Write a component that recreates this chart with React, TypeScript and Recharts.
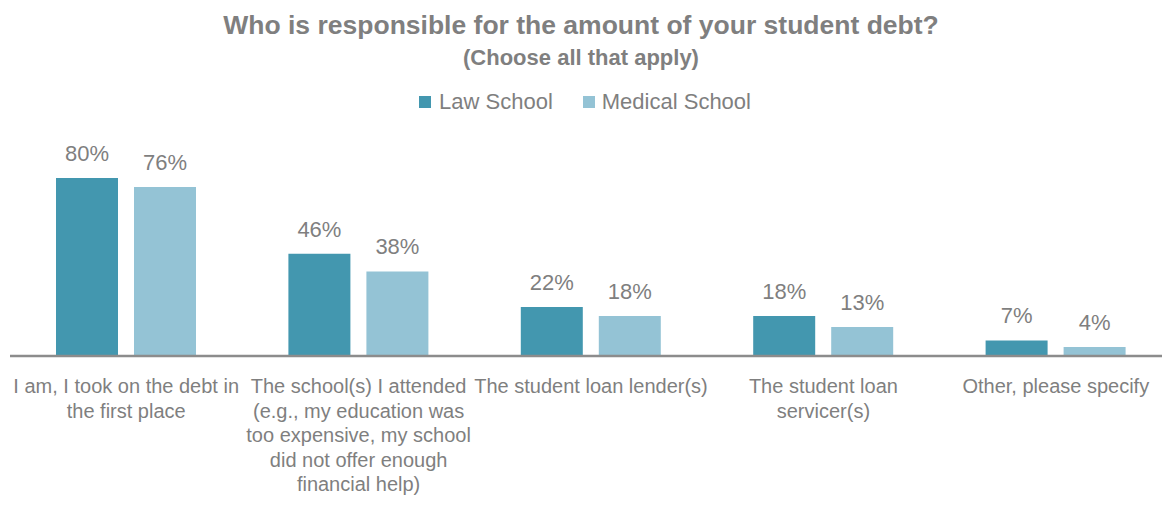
import React from 'react';
import { BarChart, Bar, XAxis, YAxis, LabelList } from 'recharts';

const categories = [
  'I am, I took on the debt in the first place',
  'The school(s) I attended (e.g., my education was too expensive, my school did not offer enough financial help)',
  'The student loan lender(s)',
  'The student loan servicer(s)',
  'Other, please specify',
];

// wrapped the way the original chart wraps them
const tickLines = [
  ['I am, I took on the debt in', 'the first place'],
  ['The school(s) I attended', '(e.g., my education was', 'too expensive, my school', 'did not offer enough', 'financial help)'],
  ['The student loan lender(s)'],
  ['The student loan', 'servicer(s)'],
  ['Other, please specify'],
];

const lawSchool = [80, 46, 22, 18, 7];
const medicalSchool = [76, 38, 18, 13, 4];

const data = categories.map((name, i) => ({
  name,
  law: lawSchool[i],
  medical: medicalSchool[i],
}));

const FONT = '"Liberation Sans Narrow", "Arial Narrow", "Liberation Sans", sans-serif';
const GREY = '#7f7f7f';
const DARK = '#4397af';
const LIGHT = '#94c3d5';

const CategoryTick = (props: any) => {
  const { x, y, index } = props;
  const lines = tickLines[index] || [];
  return (
    <text x={x} y={y} textAnchor="middle" fill={GREY} fontSize={20} fontFamily={FONT}>
      {lines.map((l, i) => (
        <tspan key={i} x={x} dy={i === 0 ? 29 : 24.6}>{l}</tspan>
      ))}
    </text>
  );
};

const pct = (v: any) => `${v}%`;

export default function App() {
  return (
    <div style={{ position: 'absolute', left: 0, top: 0, width: 1162, height: 508, overflow: 'hidden', background: '#fff', fontFamily: FONT }}>
      <div style={{ position: 'absolute', top: 10, left: 0, width: 1162, textAlign: 'center', color: GREY, fontSize: 26.5, fontWeight: 'bold' }}>
        Who is responsible for the amount of your student debt?
      </div>
      <div style={{ position: 'absolute', top: 45, left: 0, width: 1162, textAlign: 'center', color: GREY, fontSize: 22, fontWeight: 'bold' }}>
        (Choose all that apply)
      </div>
      <div style={{ position: 'absolute', top: 89, left: 4, width: 1162, display: 'flex', justifyContent: 'center', color: GREY, fontSize: 22, alignItems: 'center' }}>
        <span style={{ display: 'inline-block', width: 12, height: 12, background: DARK, marginRight: 8 }} />
        <span style={{ marginRight: 30 }}>Law School</span>
        <span style={{ display: 'inline-block', width: 12, height: 12, background: LIGHT, marginRight: 7 }} />
        <span>Medical School</span>
      </div>
      <div style={{ position: 'absolute', left: 0, top: 0 }}>
        <BarChart
          width={1180}
          height={508}
          data={data}
          margin={{ top: 133.5, right: 8, bottom: 2, left: 10 }}
          barGap={16}
          barCategoryGap={46}
        >
          <XAxis
            dataKey="name"
            interval={0}
            height={150}
            tickLine={false}
            axisLine={{ stroke: '#8c8c8c', strokeWidth: 2.5 }}
            tick={<CategoryTick />}
          />
          <YAxis hide domain={[0, 100]} />
          <Bar dataKey="law" name="Law School" fill={DARK} barSize={62} isAnimationActive={false}>
            <LabelList dataKey="law" position="top" offset={17} formatter={pct} fill={GREY} fontSize={22} fontFamily={FONT} />
          </Bar>
          <Bar dataKey="medical" name="Medical School" fill={LIGHT} barSize={62} isAnimationActive={false}>
            <LabelList dataKey="medical" position="top" offset={17} formatter={pct} fill={GREY} fontSize={22} fontFamily={FONT} />
          </Bar>
        </BarChart>
      </div>
    </div>
  );
}
